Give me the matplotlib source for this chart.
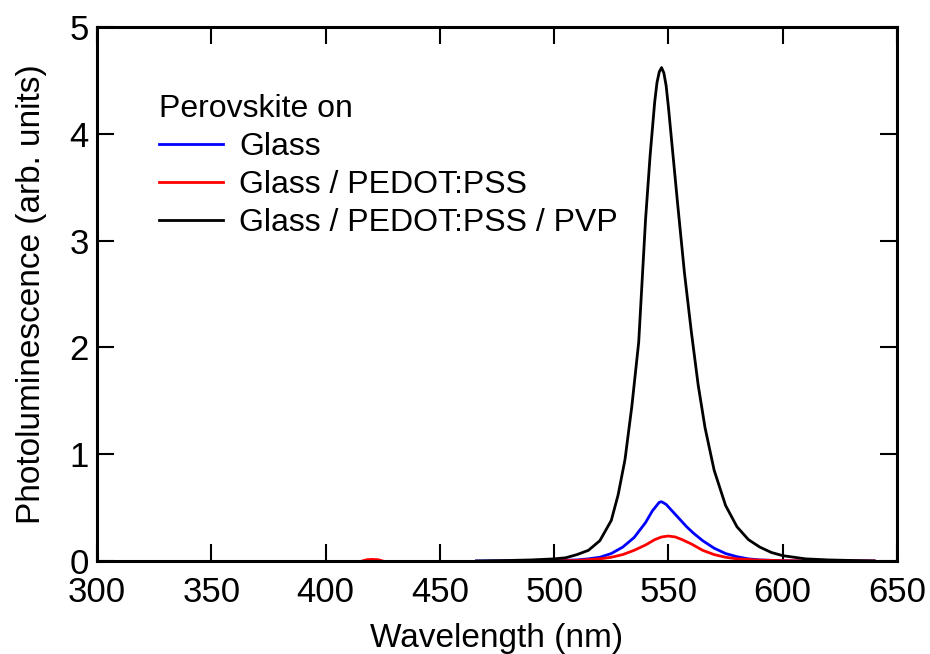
import numpy as np
import matplotlib.pyplot as plt

plt.rcParams['font.family'] = ['Liberation Sans', 'DejaVu Sans']

# PL spectra read point by point (wavelength in nm, intensity in arb. units)
wl_glass = [466, 490, 500, 510, 515, 520, 525, 530, 535, 540, 543, 546, 547,
            549, 552, 555, 558, 561, 565, 570, 575, 580, 585, 590, 600, 610, 640]
pl_glass = [0.0, 0.003, 0.005, 0.01, 0.02, 0.035, 0.07, 0.13, 0.22, 0.36, 0.47, 0.55, 0.555,
            0.53, 0.46, 0.39, 0.32, 0.26, 0.19, 0.12, 0.07, 0.04, 0.02, 0.01, 0.003, 0.0, 0.0]

wl_pedot = [416, 418, 420, 423, 425, np.nan, 490, 500, 510, 520, 525, 530, 535, 540, 544,
            547, 550, 553, 556, 560, 565, 570, 575, 580, 590, 600, 610, 620, 640]
pl_pedot = [0.0, 0.012, 0.015, 0.012, 0.0, np.nan, 0.0, 0.002, 0.005, 0.02, 0.035, 0.06, 0.1, 0.15, 0.2,
            0.225, 0.234, 0.225, 0.2, 0.16, 0.1, 0.06, 0.035, 0.02, 0.008, 0.003, 0.001, 0.0, 0.0]

wl_pvp = [466, 480, 490, 500, 505, 510, 515, 520, 525, 528, 531, 534, 537, 540, 542, 544,
          545, 546, 547, 548, 549, 550, 552, 554, 557, 560, 563, 566, 570, 575, 580, 585, 590, 595,
          600, 610, 620, 640]
pl_pvp = [0.0, 0.005, 0.01, 0.02, 0.03, 0.06, 0.10, 0.19, 0.38, 0.62, 0.95, 1.45, 2.05, 3.2, 3.8, 4.3,
          4.48, 4.58, 4.62, 4.57, 4.45, 4.25, 3.8, 3.35, 2.7, 2.15, 1.65, 1.25, 0.85, 0.52, 0.32, 0.2,
          0.13, 0.08, 0.05, 0.02, 0.01, 0.0]

labels = ['Glass', 'Glass / PEDOT:PSS', 'Glass / PEDOT:PSS / PVP']

fig = plt.figure(figsize=(9.3, 6.54), dpi=100)
ax = fig.add_axes([97/930, 1 - 561/654, 800/930, 534/654])

ax.plot(wl_glass, pl_glass, color='#0000ff', lw=2, label=labels[0])
ax.plot(wl_pedot, pl_pedot, color='#ff0000', lw=2, label=labels[1])
ax.plot(wl_pvp, pl_pvp, color='black', lw=2, label=labels[2])

ax.set_xlim(300, 650)
ax.set_ylim(0, 5)
ax.set_xticks(np.arange(300, 651, 50))
ax.set_yticks(np.arange(0, 6, 1))
ax.tick_params(direction='in', length=12, width=1.5, labelsize=25, top=True, right=True)
ax.tick_params(axis='x', pad=11)
ax.tick_params(axis='y', pad=6)
for s in ax.spines.values():
    s.set_linewidth(2.2)

ax.set_xlabel('Wavelength (nm)', fontsize=24, labelpad=10)
ax.set_ylabel('Photoluminescence (arb. units)', fontsize=24, labelpad=16)

leg = ax.legend(title='Perovskite on', loc='upper left', bbox_to_anchor=(0.078, 0.875),
                frameon=False, fontsize=23, title_fontsize=23, handlelength=2.0,
                handletextpad=0.5, labelspacing=0.25, borderaxespad=0, borderpad=0)
leg._legend_box.align = 'left'

fig.savefig('out.png', dpi=100)
